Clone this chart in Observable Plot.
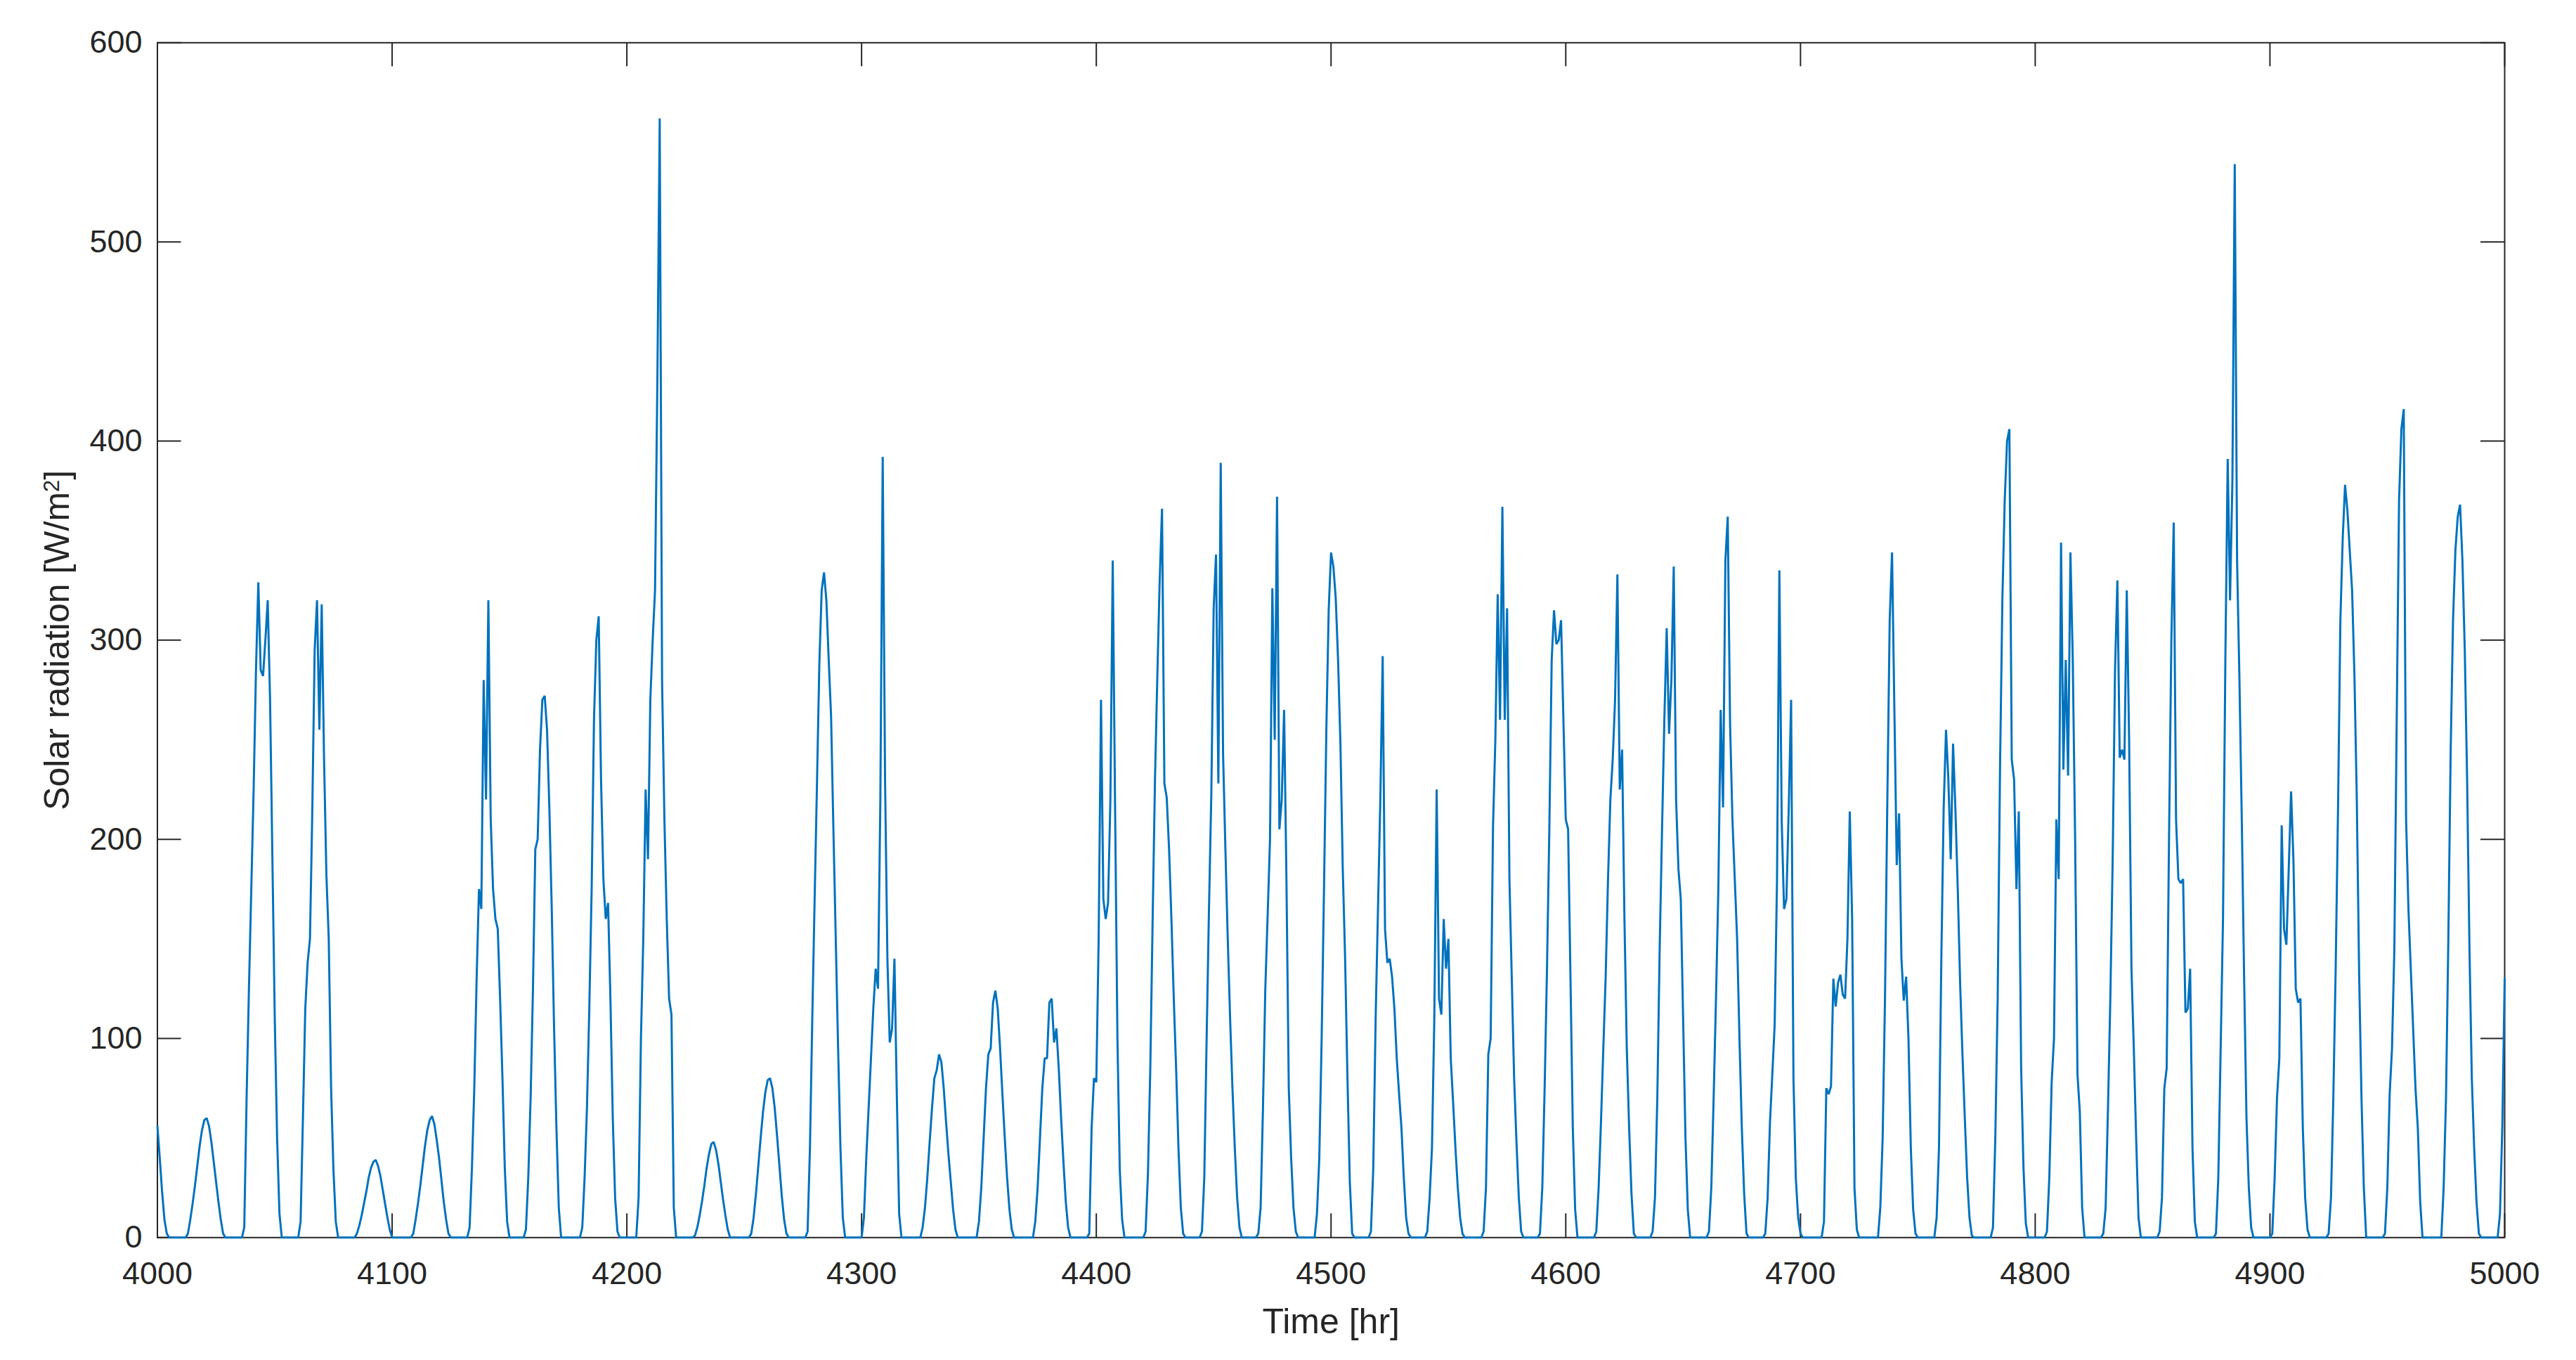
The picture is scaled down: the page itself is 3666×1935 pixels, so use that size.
<!DOCTYPE html>
<html>
<head>
<meta charset="utf-8">
<script src="https://cdn.jsdelivr.net/npm/d3@7"></script>
<script src="https://cdn.jsdelivr.net/npm/@observablehq/plot@0.6"></script>
<style>
  html, body { margin: 0; padding: 0; background: #ffffff; overflow: hidden; }
  #chart svg { display: block; }
</style>
</head>
<body>
<div id="chart"></div>
<script>
// ---- data: hourly solar radiation [W/m^2], hour 4000 .. 5000 ----
const startHour = 4000;
const radiation4000 = [
  56,40,23,9,2,0,0,0,0,0,
  0,0,0,2,9,17,26,36,46,54,
  59,60,56,48,38,28,18,9,2,0,
  0,0,0,0,0,0,0,5,70,125,
  175,225,285,329,285,282,300,320,270,190,
  110,50,12,0,0,0,0,0,0,0,
  0,8,60,115,138,150,215,295,320,255,
  318,240,182,150,75,34,8,0,0,0,
  0,0,0,0,0,2,6,11,17,23,
  30,35,38,39,36,31,24,17,10,4
];
const radiation4100 = [
  0,0,0,0,0,0,0,0,0,2,
  9,17,26,36,46,54,59,61,57,49,
  40,29,18,9,2,0,0,0,0,0,
  0,0,0,5,35,75,130,175,165,280,
  220,320,210,175,160,155,120,80,35,8,
  0,0,0,0,0,0,0,4,30,70,
  125,195,200,245,270,272,255,215,165,105,
  55,15,0,0,0,0,0,0,0,0,
  0,5,30,65,115,175,260,300,312,230,
  180,160,168,120,60,20,3,0,0,0
];
const radiation4200 = [
  0,0,0,0,0,20,100,150,225,190,
  270,300,325,430,562,280,210,160,120,112,
  15,0,0,0,0,0,0,0,0,1,
  5,11,18,26,35,42,47,48,44,37,
  28,19,11,4,0,0,0,0,0,0,
  0,0,0,2,10,22,36,50,63,73,
  79,80,75,65,51,36,21,9,2,0,
  0,0,0,0,0,0,0,3,45,110,
  170,228,288,325,334,320,290,262,205,150,
  95,45,10,0,0,0,0,0,0,0
];
const radiation4300 = [
  0,10,40,65,90,115,135,125,220,392,
  230,140,98,105,140,72,12,0,0,0,
  0,0,0,0,0,0,5,15,30,48,
  65,80,84,92,88,75,58,42,28,14,
  4,0,0,0,0,0,0,0,0,0,
  8,25,50,75,92,95,118,124,115,95,
  72,50,30,14,4,0,0,0,0,0,
  0,0,0,0,8,25,50,75,90,90,
  118,120,98,105,85,60,38,18,5,0,
  0,0,0,0,0,0,0,2,55,80
];
const radiation4400 = [
  78,150,270,170,160,168,220,340,216,100,
  34,9,0,0,0,0,0,0,0,0,
  0,3,32,85,160,230,282,330,366,228,
  221,195,160,120,85,45,15,2,0,0,
  0,0,0,0,0,3,30,100,165,223,
  316,343,228,389,243,195,150,110,75,45,
  20,5,0,0,0,0,0,0,0,2,
  15,65,125,162,200,326,250,372,205,220,
  265,180,75,40,15,3,0,0,0,0,
  0,0,0,0,12,40,100,175,255,315
];
const radiation4500 = [
  344,337,321,290,248,185,140,80,28,2,
  0,0,0,0,0,0,0,3,35,110,
  165,220,292,155,138,140,131,115,90,72,
  55,30,10,2,0,0,0,0,0,0,
  0,3,20,45,110,225,120,112,160,135,
  150,90,68,45,25,10,2,0,0,0,
  0,0,0,0,0,3,25,92,100,206,
  250,323,260,367,260,316,180,130,80,48,
  20,3,0,0,0,0,0,0,0,2,
  25,75,135,205,290,315,298,300,310,260
];
const radiation4600 = [
  210,205,131,55,14,0,0,0,0,0,
  0,0,0,3,25,58,95,131,180,220,
  240,270,333,225,245,160,95,55,22,2,
  0,0,0,0,0,0,0,3,20,70,
  145,204,260,306,253,280,337,220,185,170,
  110,50,14,0,0,0,0,0,0,0,
  0,3,25,70,120,175,265,216,340,362,
  258,210,180,150,100,55,22,2,0,0,
  0,0,0,0,0,2,20,58,82,107,
  180,335,209,165,170,216,270,80,30,10
];
const radiation4700 = [
  2,0,0,0,0,0,0,0,0,0,
  8,75,72,76,130,116,128,132,122,120,
  150,214,160,25,4,0,0,0,0,0,
  0,0,0,0,15,50,120,220,310,344,
  265,187,213,140,119,131,100,45,14,2,
  0,0,0,0,0,0,0,0,10,45,
  140,216,255,230,190,248,215,175,128,92,
  60,30,10,1,0,0,0,0,0,0,
  0,0,5,50,120,235,320,370,400,406,
  240,230,175,214,85,35,7,0,0,0
];
const radiation4800 = [
  0,0,0,0,0,3,30,78,100,210,
  180,349,235,290,232,344,290,200,82,63,
  15,0,0,0,0,0,0,0,0,2,
  15,65,120,190,285,330,241,245,240,325,
  250,135,95,50,10,0,0,0,0,0,
  0,0,0,3,20,75,85,200,300,359,
  210,180,178,180,113,115,135,45,8,0,
  0,0,0,0,0,0,0,2,30,95,
  160,290,391,320,380,539,340,280,210,130,
  60,25,5,0,0,0,0,0,0,0
];
const radiation4900 = [
  0,2,30,70,90,207,155,147,185,224,
  190,125,118,120,55,20,4,0,0,0,
  0,0,0,0,0,2,20,70,135,215,
  310,351,378,365,345,325,282,220,132,70,
  25,0,0,0,0,0,0,0,0,2,
  25,72,95,145,260,370,406,416,210,165,
  135,105,75,55,18,0,0,0,0,0,
  0,0,0,0,25,70,150,245,310,345,
  362,368,340,295,230,145,80,45,18,2,
  0,0,0,0,0,0,0,0,12,56
];
const radiation5000 = [130];

const xTicks = [4000, 4100, 4200, 4300, 4400, 4500, 4600, 4700, 4800, 4900, 5000];
const yTicks = [0, 100, 200, 300, 400, 500, 600];
const xLabel = "Time [hr]";
const yLabelMain = "Solar radiation [W/m";
const yLabelSup = "2";
const yLabelEnd = "]";

// ---- build table ----
const values = [].concat(radiation4000, radiation4100, radiation4200, radiation4300, radiation4400,
  radiation4500, radiation4600, radiation4700, radiation4800, radiation4900, radiation5000);
const series = values.map((v, i) => ({hour: startHour + i, value: v}));

// ---- layout ----
const W = 3666, H = 1935;
const mL = 223.5, mR = 102, mT = 60.3, mB = 174.7;
const innerW = W - mL - mR;
const innerH = H - mT - mB;
const tickLen = 34;
const ink = "#262626";
const font = "'Liberation Sans', Arial, Helvetica, sans-serif";

const chart = Plot.plot({
  width: W,
  height: H,
  marginLeft: mL,
  marginRight: mR,
  marginTop: mT,
  marginBottom: mB,
  style: {fontFamily: font, fontSize: "45px", color: ink, background: "#ffffff"},
  x: {domain: [xTicks[0], xTicks[xTicks.length - 1]], label: null},
  y: {domain: [yTicks[0], yTicks[yTicks.length - 1]], label: null},
  marks: [
    Plot.frame({stroke: ink, strokeWidth: 2}),
    // inward ticks on all four sides
    Plot.ruleX(xTicks, {x: d => d, insetTop: innerH - tickLen, stroke: ink, strokeWidth: 2}),
    Plot.ruleX(xTicks, {x: d => d, insetBottom: innerH - tickLen, stroke: ink, strokeWidth: 2}),
    Plot.ruleY(yTicks, {y: d => d, insetRight: innerW - tickLen, stroke: ink, strokeWidth: 2}),
    Plot.ruleY(yTicks, {y: d => d, insetLeft: innerW - tickLen, stroke: ink, strokeWidth: 2}),
    Plot.axisX(xTicks, {anchor: "bottom", tickSize: 0, tickPadding: 34, tickFormat: "d", label: null, fontSize: 45, fill: ink}),
    Plot.axisY(yTicks, {anchor: "left", tickSize: 0, tickPadding: 21.5, tickFormat: "d", label: null, fontSize: 45, fill: ink}),
    Plot.text([xLabel], {frameAnchor: "bottom", dy: 136, lineAnchor: "bottom", fontSize: 50, fill: ink}),
    Plot.text([yLabelMain + yLabelSup + yLabelEnd], {frameAnchor: "left", rotate: -90, dx: -161.5, lineAnchor: "top", textAnchor: "middle", fontSize: 50, fill: ink, className: "ylabel"}),
    Plot.line(series, {x: "hour", y: "value", stroke: "#0072BD", strokeWidth: 3, strokeLinejoin: "miter"})
  ]
});

// typeset the superscript of the y label as in the original (raised, smaller "2")
d3.select(chart).selectAll("g.ylabel text").each(function () {
  const t = d3.select(this);
  t.text(null);
  t.append("tspan").text(yLabelMain);
  t.append("tspan").attr("dy", "-0.45em").attr("font-size", "0.62em").text(yLabelSup);
  t.append("tspan").attr("dy", "0.28em").text(yLabelEnd);
});

document.getElementById("chart").appendChild(chart);
</script>
</body>
</html>
